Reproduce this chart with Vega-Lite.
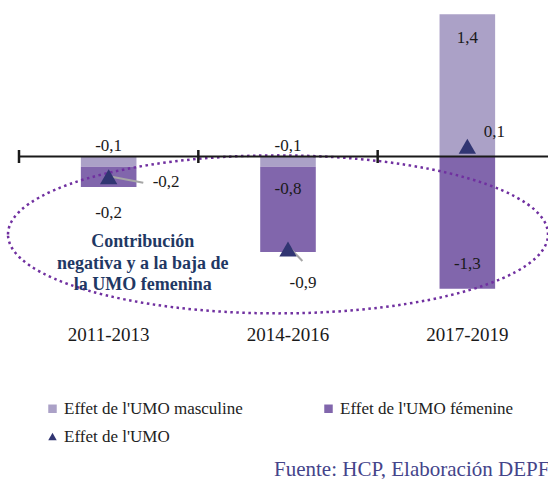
{
  "$schema": "https://vega.github.io/schema/vega-lite/v6.json",
  "width": 529,
  "height": 305,
  "autosize": "none",
  "padding": {"left": 19, "top": 4, "right": 0, "bottom": 170},
  "background": "white",
  "title": {
    "text": "Fuente: HCP, Elaboración DEPF",
    "orient": "bottom",
    "anchor": "start",
    "frame": "group",
    "dx": 255,
    "offset": 14,
    "font": "Liberation Serif",
    "fontSize": 21,
    "fontWeight": "normal",
    "color": "#44448a"
  },
  "config": {
    "font": "Liberation Serif",
    "view": {"stroke": null},
    "locale": {"number": {"decimal": ",", "thousands": ".", "grouping": [3], "currency": ["", ""], "minus": "-"}},
    "text": {"font": "Liberation Serif", "fontSize": 17, "color": "#1a1a1a", "baseline": "middle"}
  },
  "data": {
    "values": [
      {"period": "2011-2013", "s": "m", "series": "Effet de l'UMO masculine", "value": -0.1},
      {"period": "2011-2013", "s": "f", "series": "Effet de l'UMO fémenine", "value": -0.2},
      {"period": "2011-2013", "s": "u", "series": "Effet de l'UMO", "value": -0.2},
      {"period": "2014-2016", "s": "m", "series": "Effet de l'UMO masculine", "value": -0.1},
      {"period": "2014-2016", "s": "f", "series": "Effet de l'UMO fémenine", "value": -0.84},
      {"period": "2014-2016", "s": "u", "series": "Effet de l'UMO", "value": -0.91},
      {"period": "2017-2019", "s": "m", "series": "Effet de l'UMO masculine", "value": 1.4},
      {"period": "2017-2019", "s": "f", "series": "Effet de l'UMO fémenine", "value": -1.3},
      {"period": "2017-2019", "s": "u", "series": "Effet de l'UMO", "value": 0.1}
    ]
  },
  "layer": [
    {
      "transform": [{"filter": "datum.s != 'u'"}],
      "mark": {"type": "bar", "width": {"band": 0.31}},
      "encoding": {
        "x": {
          "field": "period", "type": "nominal", "title": null,
          "scale": {"range": [0, 538], "paddingInner": 0, "paddingOuter": 0},
          "axis": {"domain": false, "ticks": false, "tickSize": 0, "grid": false, "labelAngle": 0,
                   "labelFont": "Liberation Serif", "labelFontSize": 19, "labelColor": "#1a1a1a",
                   "labelBaseline": "alphabetic", "labelPadding": 31}
        },
        "y": {"field": "value", "type": "quantitative", "stack": "zero",
              "scale": {"domain": [-1.5, 1.5], "nice": false, "zero": false}, "axis": null},
        "color": {
          "field": "series", "type": "nominal", "title": null,
          "scale": {"domain": ["Effet de l'UMO masculine", "Effet de l'UMO fémenine", "Effet de l'UMO"],
                    "range": ["#aba1c7", "#8166ac", "#313572"]},
          "legend": {"orient": "none", "legendX": 25, "legendY": 396, "columns": 2, "direction": "horizontal", "columnPadding": 77,
                     "rowPadding": 10, "symbolSize": 72, "symbolStrokeWidth": 0, "labelFont": "Liberation Serif",
                     "labelFontSize": 17, "labelColor": "#222222", "labelLimit": 400, "labelOffset": 3, "padding": 0}
        },
        "order": {"field": "series", "sort": "descending"}
      }
    },
    {
      "data": {"values": [{}]},
      "mark": {"type": "point", "shape": "M-1,0C-1,-0.1616,-0.5523,-0.2926,0,-0.2926C0.5523,-0.2926,1,-0.1616,1,0C1,0.1616,0.5523,0.2926,0,0.2926C-0.5523,0.2926,-1,0.1616,-1,0Z",
               "size": 291600, "filled": false, "color": "#7030a0", "strokeWidth": 2.5,
               "strokeDash": [2.5, 3.5], "opacity": 1, "xOffset": -10},
      "encoding": {
        "x": {"datum": "2014-2016"},
        "y": {"datum": -0.766}
      }
    },
    {
      "data": {"values": [{}]},
      "mark": {"type": "rule", "color": "#1a1a1a", "strokeWidth": 2},
      "encoding": {"y": {"datum": 0}}
    },
    {
      "transform": [{"filter": "datum.s == 'm'"}],
      "mark": {"type": "rule", "color": "#1a1a1a", "strokeWidth": 2.5, "yOffset": -6.5, "y2Offset": 6.5},
      "encoding": {
        "x": {"field": "period", "type": "nominal", "bandPosition": 0},
        "y": {"datum": 0},
        "y2": {"datum": 0}
      }
    },
    {
      "transform": [{"filter": "datum.s == 'u' && datum.period == '2011-2013'"}],
      "mark": {"type": "rule", "color": "#a6a6a6", "strokeWidth": 2, "xOffset": 3, "x2Offset": 34.6, "yOffset": 0, "y2Offset": 6},
      "encoding": {
        "x": {"field": "period", "type": "nominal"},
        "x2": {"field": "period"},
        "y": {"field": "value", "type": "quantitative"},
        "y2": {"field": "value"}
      }
    },
    {
      "transform": [{"filter": "datum.s == 'u' && datum.period == '2014-2016'"}],
      "mark": {"type": "rule", "color": "#a6a6a6", "strokeWidth": 2, "xOffset": 2.4, "x2Offset": 14.4, "yOffset": -0.7, "y2Offset": 12},
      "encoding": {
        "x": {"field": "period", "type": "nominal"},
        "x2": {"field": "period"},
        "y": {"field": "value", "type": "quantitative"},
        "y2": {"field": "value"}
      }
    },
    {
      "transform": [{"filter": "datum.s == 'u'"}],
      "mark": {"type": "point", "filled": true, "size": 300, "opacity": 1},
      "encoding": {
        "x": {"field": "period", "type": "nominal"},
        "y": {"field": "value", "type": "quantitative"},
        "color": {
          "field": "series", "type": "nominal", "title": null,
          "legend": {"orient": "none", "legendX": 25, "legendY": 396, "columns": 2, "direction": "horizontal", "columnPadding": 77,
                     "rowPadding": 10, "symbolSize": 72, "symbolStrokeWidth": 0, "labelFont": "Liberation Serif",
                     "labelFontSize": 17, "labelColor": "#222222", "labelLimit": 400, "labelOffset": 3, "padding": 0}
        },
        "shape": {
          "field": "series", "type": "nominal", "title": null,
          "scale": {"domain": ["Effet de l'UMO masculine", "Effet de l'UMO fémenine", "Effet de l'UMO"],
                    "range": ["square", "square", "triangle-up"]},
          "legend": {"orient": "none", "legendX": 25, "legendY": 396, "columns": 2, "direction": "horizontal", "columnPadding": 77,
                     "rowPadding": 10, "symbolSize": 72, "symbolStrokeWidth": 0, "labelFont": "Liberation Serif",
                     "labelFontSize": 17, "labelColor": "#222222", "labelLimit": 400, "labelOffset": 3, "padding": 0}
        }
      }
    },
    {
      "transform": [
        {"filter": "datum.s != 'u'"},
        {"stack": "value", "groupby": ["period"], "sort": [{"field": "series", "order": "descending"}], "as": ["v0", "v1"]},
        {"filter": "datum.s == 'm' && datum.value < 0"}
      ],
      "mark": {"type": "text", "dy": -11},
      "encoding": {
        "x": {"field": "period", "type": "nominal"},
        "y": {"field": "v0", "type": "quantitative"},
        "text": {"field": "value", "type": "quantitative", "format": ".1f"}
      }
    },
    {
      "transform": [
        {"filter": "datum.s != 'u'"},
        {"stack": "value", "groupby": ["period"], "sort": [{"field": "series", "order": "descending"}], "as": ["v0", "v1"]},
        {"filter": "datum.s == 'm' && datum.value > 0"}
      ],
      "mark": {"type": "text", "dy": 24},
      "encoding": {
        "x": {"field": "period", "type": "nominal"},
        "y": {"field": "v1", "type": "quantitative"},
        "text": {"field": "value", "type": "quantitative", "format": ".1f"}
      }
    },
    {
      "transform": [
        {"filter": "datum.s != 'u'"},
        {"stack": "value", "groupby": ["period"], "sort": [{"field": "series", "order": "descending"}], "as": ["v0", "v1"]},
        {"filter": "datum.s == 'f' && datum.period == '2011-2013'"}
      ],
      "mark": {"type": "text", "dy": 26},
      "encoding": {
        "x": {"field": "period", "type": "nominal"},
        "y": {"field": "v1", "type": "quantitative"},
        "text": {"field": "value", "type": "quantitative", "format": ".1f"}
      }
    },
    {
      "transform": [
        {"filter": "datum.s != 'u'"},
        {"stack": "value", "groupby": ["period"], "sort": [{"field": "series", "order": "descending"}], "as": ["v0", "v1"]},
        {"filter": "datum.s == 'f' && datum.period == '2014-2016'"}
      ],
      "mark": {"type": "text", "dy": 22},
      "encoding": {
        "x": {"field": "period", "type": "nominal"},
        "y": {"field": "v0", "type": "quantitative"},
        "text": {"field": "value", "type": "quantitative", "format": ".1f"}
      }
    },
    {
      "transform": [
        {"filter": "datum.s != 'u'"},
        {"stack": "value", "groupby": ["period"], "sort": [{"field": "series", "order": "descending"}], "as": ["v0", "v1"]},
        {"filter": "datum.s == 'f' && datum.period == '2017-2019'"}
      ],
      "mark": {"type": "text", "dy": -25},
      "encoding": {
        "x": {"field": "period", "type": "nominal"},
        "y": {"field": "v1", "type": "quantitative"},
        "text": {"field": "value", "type": "quantitative", "format": ".1f"}
      }
    },
    {
      "transform": [{"filter": "datum.s == 'u' && datum.period == '2011-2013'"}],
      "mark": {"type": "text", "align": "left", "dx": 44, "dy": 5},
      "encoding": {
        "x": {"field": "period", "type": "nominal"},
        "y": {"field": "value", "type": "quantitative"},
        "text": {"field": "value", "type": "quantitative", "format": ".1f"}
      }
    },
    {
      "transform": [{"filter": "datum.s == 'u' && datum.period == '2014-2016'"}],
      "mark": {"type": "text", "dx": 15, "dy": 34},
      "encoding": {
        "x": {"field": "period", "type": "nominal"},
        "y": {"field": "value", "type": "quantitative"},
        "text": {"field": "value", "type": "quantitative", "format": ".1f"}
      }
    },
    {
      "transform": [{"filter": "datum.s == 'u' && datum.period == '2017-2019'"}],
      "mark": {"type": "text", "dx": 27, "dy": -14},
      "encoding": {
        "x": {"field": "period", "type": "nominal"},
        "y": {"field": "value", "type": "quantitative"},
        "text": {"field": "value", "type": "quantitative", "format": ".1f"}
      }
    },
    {
      "data": {"values": [{}]},
      "mark": {"type": "text", "text": ["Contribución", "negativa y a la baja de", "la UMO femenina"],
               "font": "Liberation Serif", "fontWeight": "bold", "fontSize": 18, "color": "#1f3864",
               "lineHeight": 21.5, "dx": 34, "align": "center", "baseline": "middle"},
      "encoding": {
        "x": {"datum": "2011-2013"},
        "y": {"datum": -0.843}
      }
    }
  ]
}
